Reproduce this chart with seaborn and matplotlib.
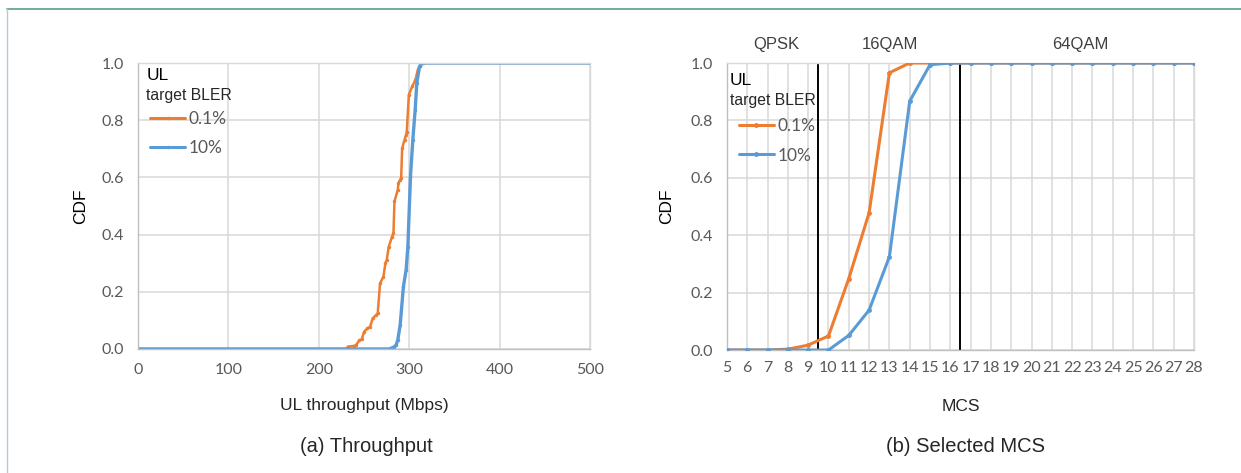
import seaborn as sns
import matplotlib.pyplot as plt
import pandas as pd
from matplotlib.lines import Line2D
from matplotlib.ticker import MultipleLocator

sns.set_style("white")
plt.rcParams['font.family'] = ['Liberation Sans', 'DejaVu Sans']

ORANGE = '#ED7D31'
BLUE = '#5B9BD5'
GRID = '#d9d9d9'
TICK = '#595959'
TICK_FONT = ['Lato', 'DejaVu Sans']

# (a) UL throughput CDF (Mbps)
tp_low_x = [0, 230.5, 231.7, 239.1, 241.0, 244.6, 247.2, 250.0, 253.6, 256.5, 259.4, 263.1,
            264.9, 267.5, 271.2, 273.4, 274.9, 277.1, 280.8, 282.3, 283.4, 287.1,
            287.8, 289.7, 290.8, 291.9, 294.5, 296.3, 297.0, 299.3, 303.0, 306.6,
            309.2, 311.1, 314.8, 500]
tp_low_y = [0, 0, 0.008, 0.011, 0.014, 0.030, 0.034, 0.061, 0.072, 0.078, 0.107, 0.119,
            0.125, 0.230, 0.253, 0.300, 0.312, 0.358, 0.393, 0.405, 0.516, 0.557,
            0.580, 0.592, 0.597, 0.702, 0.731, 0.749, 0.760, 0.889, 0.918, 0.941,
            0.976, 0.988, 1.0, 1.0]
tp_high_x = [0, 277.9, 283.4, 285.2, 287.1, 289.7, 293.3, 296.3, 298.2, 301.1, 303.7,
             306.3, 308.1, 311.1, 314.0, 500]
tp_high_y = [0, 0, 0.008, 0.014, 0.032, 0.084, 0.218, 0.277, 0.358, 0.603, 0.732,
             0.837, 0.930, 0.988, 1.0, 1.0]

# (b) selected MCS CDF
mcs = list(range(5, 29))
mcs_low = [0, 0, 0, 0.003, 0.017, 0.049, 0.249, 0.478, 0.966, 1.0, 1.0, 1.0,
           1.0, 1.0, 1.0, 1.0, 1.0, 1.0, 1.0, 1.0, 1.0, 1.0, 1.0, 1.0]
mcs_high = [0, 0, 0, 0, 0, 0, 0.051, 0.139, 0.325, 0.867, 0.994, 1.0,
            1.0, 1.0, 1.0, 1.0, 1.0, 1.0, 1.0, 1.0, 1.0, 1.0, 1.0, 1.0]

labels = ['0.1%', '10%']
mod_names = ['QPSK', '16QAM', '64QAM']
mod_pos = [7.45, 13.05, 22.4]
mod_bounds = [9.5, 16.5]

df_tp = pd.concat([
    pd.DataFrame({'x': tp_low_x, 'cdf': tp_low_y, 'BLER': labels[0]}),
    pd.DataFrame({'x': tp_high_x, 'cdf': tp_high_y, 'BLER': labels[1]}),
])
df_mcs = pd.concat([
    pd.DataFrame({'x': mcs, 'cdf': mcs_low, 'BLER': labels[0]}),
    pd.DataFrame({'x': mcs, 'cdf': mcs_high, 'BLER': labels[1]}),
])

fig = plt.figure(figsize=(12.41, 4.73), dpi=100)
ax1 = fig.add_axes([0.1112, 0.2622, 0.3646, 0.6046])
ax2 = fig.add_axes([0.5858, 0.2600, 0.3763, 0.6068])

pal = {labels[0]: ORANGE, labels[1]: BLUE}

sns.lineplot(data=df_tp, x='x', y='cdf', hue='BLER', palette=pal, estimator=None,
             sort=False, marker='o', markersize=2.5, markeredgewidth=0, ax=ax1)
for ln, lw in zip(ax1.lines[:2], [1.8, 2.4]):
    ln.set_linewidth(lw)

for v in mod_bounds:
    ax2.axvline(v, color='black', lw=1.4, zorder=1)
sns.lineplot(data=df_mcs, x='x', y='cdf', hue='BLER', palette=pal, estimator=None,
             marker='o', markersize=3.5, markeredgewidth=0, lw=2.2, ax=ax2, zorder=3)

def style_axes(ax, xlim, xmajor, xminor):
    ax.set_xlim(*xlim)
    ax.set_ylim(0, 1.0)
    ax.xaxis.set_major_locator(MultipleLocator(xmajor))
    ax.yaxis.set_major_locator(MultipleLocator(0.2))
    ax.yaxis.set_minor_locator(MultipleLocator(0.05))
    if xminor:
        ax.xaxis.set_minor_locator(MultipleLocator(xminor))
    ax.yaxis.set_major_formatter(plt.FormatStrFormatter('%.1f'))
    ax.grid(True, which='major', color=GRID, lw=1.1)
    ax.set_axisbelow(True)
    ax.tick_params(axis='both', which='major', length=0, labelsize=11.5,
                   labelcolor=TICK, pad=10)
    ax.tick_params(axis='both', which='minor', direction='in', length=4,
                   color='#bfbfbf', width=0.8)
    for t in ax.get_xticklabels() + ax.get_yticklabels():
        t.set_family(TICK_FONT)
    for s in ax.spines.values():
        s.set_color(GRID)
        s.set_linewidth(1.0)
    ax.spines['left'].set_color('#bfbfbf')
    ax.spines['bottom'].set_color('#bfbfbf')
    ax.set_ylabel('CDF', fontsize=12.5, color='black')

style_axes(ax1, (0, 500), 100, 20)
style_axes(ax2, (5, 28), 1, None)
ax2.tick_params(axis='x', pad=8)

ax1.set_xlabel('UL throughput (Mbps)', fontsize=12.5)
ax2.set_xlabel('MCS', fontsize=12.5)
ax1.xaxis.set_label_coords(0.5, -0.17)
ax2.xaxis.set_label_coords(0.5, -0.17)
ax1.yaxis.set_label_coords(-0.111, 0.5)
ax2.yaxis.set_label_coords(-0.113, 0.5)

for ax, x0, y0 in [(ax1, 0.018, 0.955), (ax2, 0.006, 0.94)]:
    ax.text(x0, y0, 'UL', transform=ax.transAxes, fontsize=12.5,
            va='center', ha='left', color='black')
    ax.text(x0, y0 - 0.07, 'target BLER', transform=ax.transAxes, fontsize=11.3,
            va='center', ha='left', color='#262626')

leg_kw = dict(loc='upper left', frameon=False, handlelength=2.0, handletextpad=0.2,
              borderaxespad=0.3, labelcolor=TICK,
              prop={'family': TICK_FONT, 'size': 12.5})
leg1 = ax1.legend(bbox_to_anchor=(0.0, 0.873), labelspacing=0.75, **leg_kw)
leg2 = ax2.legend(bbox_to_anchor=(0.0, 0.852), labelspacing=0.8, **leg_kw)
for leg in (leg1, leg2):
    for h in leg.legend_handles:
        h.set_linewidth(2.2)

for name, pos in zip(mod_names, mod_pos):
    ax2.text(pos, 1.065, name, transform=ax2.get_xaxis_transform(), fontsize=12,
             ha='center', va='center', color='#404040')

fig.text(366 / 1241, 1 - 446 / 473, '(a) Throughput', fontsize=14.5,
         ha='center', va='center')
fig.text(965 / 1241, 1 - 446 / 473, '(b) Selected MCS', fontsize=14.5,
         ha='center', va='center')

# page frame lines
fig.add_artist(Line2D([7 / 1241, 1], [1 - 9 / 473, 1 - 9 / 473], color='#5a9e8c',
                      lw=1.2, transform=fig.transFigure))
fig.add_artist(Line2D([7 / 1241, 7 / 1241], [0, 1 - 9 / 473], color='#b4cad6',
                      lw=1.0, transform=fig.transFigure))

fig.savefig('out.png', dpi=100)
